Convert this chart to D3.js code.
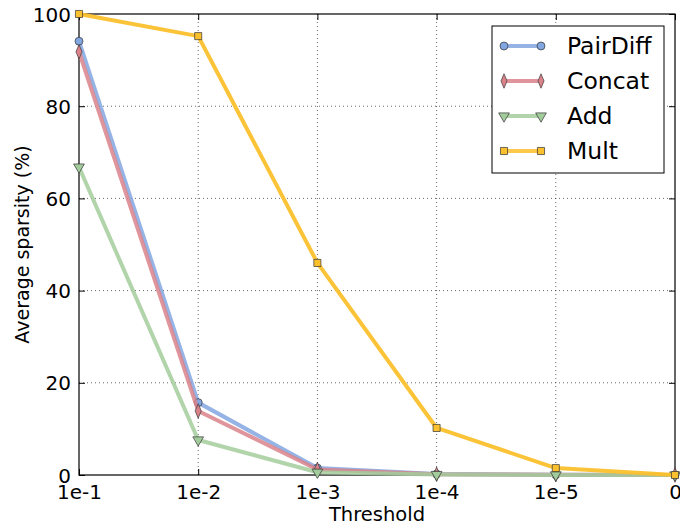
<!DOCTYPE html>
<html>
<head>
<meta charset="utf-8">
<script src="https://cdn.jsdelivr.net/npm/d3@7"></script>
<style>
  body { margin: 0; background: #fff; }
  svg text { font-family: "DejaVu Sans", sans-serif; }
</style>
</head>
<body>
<div id="chart"></div>
<script>
// thresholds along x
var thresholds = ["1e-1", "1e-2", "1e-3", "1e-4", "1e-5", "0"];
var yTicks = [0, 20, 40, 60, 80, 100];

// average sparsity (%) per method
var pairDiff = [94.1, 15.7, 1.5, 0.2, 0.05, 0];
var concat   = [91.8, 13.9, 1.2, 0.15, 0.05, 0];
var add      = [66.8, 7.6, 0.6, 0.1, 0.02, 0];
var mult     = [100, 95.2, 46.0, 10.2, 1.5, 0];

var seriesNames = ["PairDiff", "Concat", "Add", "Mult"];
var seriesColors = ["#82a6e0", "#d98289", "#a3cc9c", "#fbc02d"];
var seriesMarkers = ["circle", "diamond", "triangle", "square"];
var seriesValues = [pairDiff, concat, add, mult];

var margin = {top: 14, right: 5, bottom: 52, left: 79};
var width = 680 - margin.left - margin.right,
    height = 527 - margin.top - margin.bottom;

var svg = d3.select("#chart").append("svg")
    .attr("width", 680)
    .attr("height", 527)
  .append("g")
    .attr("transform", "translate(" + margin.left + "," + margin.top + ")");

var x = d3.scalePoint()
    .domain(thresholds)
    .range([0, width]);

var y = d3.scaleLinear()
    .domain([0, 100])
    .range([height, 0]);

// grid
svg.append("g").selectAll("line.vg")
    .data(thresholds.slice(1, -1))
  .enter().append("line")
    .attr("x1", function(d) { return x(d); })
    .attr("x2", function(d) { return x(d); })
    .attr("y1", 0).attr("y2", height)
    .attr("stroke", "#000").attr("stroke-width", 0.6)
    .attr("stroke-dasharray", "1,3");

svg.append("g").selectAll("line.hg")
    .data(yTicks.slice(1, -1))
  .enter().append("line")
    .attr("x1", 0).attr("x2", width)
    .attr("y1", function(d) { return y(d); })
    .attr("y2", function(d) { return y(d); })
    .attr("stroke", "#000").attr("stroke-width", 0.6)
    .attr("stroke-dasharray", "1,3");

// axes with inward ticks on all sides
var xAxis = d3.axisBottom(x).tickSizeInner(-6).tickSizeOuter(0).tickPadding(10);
var yAxis = d3.axisLeft(y).tickValues(yTicks).tickSizeInner(-6).tickSizeOuter(0).tickPadding(8);

var gx = svg.append("g")
    .attr("transform", "translate(0," + height + ")")
    .call(xAxis);
var gy = svg.append("g").call(yAxis);

svg.append("g").call(d3.axisTop(x).tickSizeInner(-6).tickSizeOuter(0).tickFormat(""));
svg.append("g").attr("transform", "translate(" + width + ",0)")
    .call(d3.axisRight(y).tickValues(yTicks).tickSizeInner(-6).tickSizeOuter(0).tickFormat(""));

svg.selectAll(".domain").remove();
svg.selectAll(".tick line").attr("stroke", "#000");
gx.selectAll("text").attr("font-size", 20).attr("fill", "#000");
gy.selectAll("text").attr("font-size", 20).attr("fill", "#000").attr("dy", "0.35em");

svg.append("rect")
    .attr("width", width).attr("height", height)
    .attr("fill", "none").attr("stroke", "#000").attr("stroke-width", 1.2);

svg.append("text")
    .attr("x", width / 2).attr("y", height + 46)
    .attr("text-anchor", "middle")
    .attr("font-size", 19.5)
    .text("Threshold");

svg.append("text")
    .attr("transform", "rotate(-90)")
    .attr("x", -height / 2).attr("y", -50)
    .attr("text-anchor", "middle")
    .attr("font-size", 19)
    .text("Average sparsity (%)");

// markers
function markerPath(type, s) {
    var sym = {circle: d3.symbolCircle, diamond: d3.symbolDiamond,
               triangle: d3.symbolTriangle, square: d3.symbolSquare}[type];
    return d3.symbol().type(sym).size(s)();
}

var line = d3.line()
    .x(function(d, i) { return x(thresholds[i]); })
    .y(function(d) { return y(d); });

var plot = svg.append("g");
seriesValues.forEach(function(vals, k) {
    plot.append("path")
        .datum(vals)
        .attr("fill", "none")
        .attr("stroke", seriesColors[k])
        .attr("stroke-width", 4)
        .attr("stroke-opacity", k == 3 ? 0.95 : 0.85)
        .attr("stroke-linejoin", "round")
        .attr("d", line);

    plot.selectAll(null)
        .data(vals)
      .enter().append("path")
        .attr("d", markerPath(seriesMarkers[k], 50))
        .attr("transform", function(d, i) {
            var rot = seriesMarkers[k] == "triangle" ? " rotate(180)" : "";
            var sy = seriesMarkers[k] == "diamond" ? " scale(0.8,1.1)" : "";
            return "translate(" + x(thresholds[i]) + "," + y(d) + ")" + rot + sy;
        })
        .attr("fill", seriesColors[k])
        .attr("stroke", "#333")
        .attr("stroke-width", 0.7);
});

// legend
var legend = svg.append("g").attr("transform", "translate(413,12)");
legend.append("rect")
    .attr("width", 172).attr("height", 147)
    .attr("fill", "#fff").attr("stroke", "#000").attr("stroke-width", 1);

seriesNames.forEach(function(name, k) {
    var ly = 20 + k * 35;
    legend.append("line")
        .attr("x1", 12).attr("x2", 49)
        .attr("y1", ly).attr("y2", ly)
        .attr("stroke", seriesColors[k]).attr("stroke-width", 4)
        .attr("stroke-opacity", 0.85);
    [12, 49].forEach(function(mx) {
        legend.append("path")
            .attr("d", markerPath(seriesMarkers[k], 50))
            .attr("transform", "translate(" + mx + "," + ly + ")" +
                (seriesMarkers[k] == "triangle" ? " rotate(180)" : "") +
                (seriesMarkers[k] == "diamond" ? " scale(0.8,1.1)" : ""))
            .attr("fill", seriesColors[k])
            .attr("stroke", "#333").attr("stroke-width", 0.7);
    });
    legend.append("text")
        .attr("x", 75).attr("y", ly)
        .attr("dy", "0.35em")
        .attr("font-size", 23.5)
        .text(name);
});
</script>
</body>
</html>
